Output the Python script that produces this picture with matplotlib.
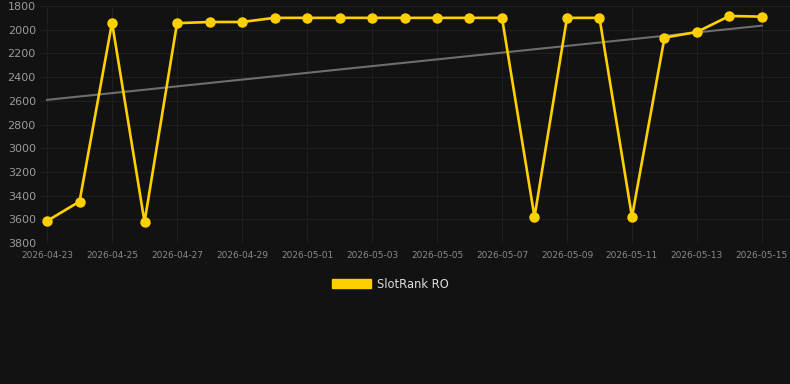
import matplotlib
matplotlib.use("Agg")
import matplotlib.pyplot as plt
import matplotlib.dates as mdates
from matplotlib.patches import Patch
import numpy as np
import pandas as pd

dates = pd.date_range("2026-04-23", "2026-05-15", freq="D")
ranks = [3614, 3450, 1940, 3623, 1945, 1935, 1935, 1900, 1900, 1900,
         1900, 1900, 1900, 1900, 1900, 3580, 1900, 1900, 3580, 2067,
         2019, 1884, 1890]
trend = [2592, 1966]  # start, end
tick_dates = dates[::2]
yticks = list(range(1800, 3801, 200))

bg = "#121212"
gold = "#FFD000"

fig = plt.figure(figsize=(7.9, 3.84), dpi=100, facecolor=bg)
ax = fig.add_axes([40 / 790, 1 - 243 / 384, 750 / 790, 237 / 384])
ax.set_facecolor(bg)

ax.plot([dates[0], dates[-1]], trend, color="#6e6e6e", lw=1.5, zorder=2)
ax.plot(dates, ranks, color=gold, lw=1.9, marker="o", ms=6.5,
        solid_joinstyle="miter", zorder=3, clip_on=False)

ax.set_ylim(3800, 1800)
ax.set_yticks(yticks)
ax.set_xlim(dates[0] - pd.Timedelta(hours=5.2), dates[-1] + pd.Timedelta(hours=20.7))
ax.set_xticks(tick_dates)
ax.xaxis.set_major_formatter(mdates.DateFormatter("%Y-%m-%d"))

ax.grid(True, color="#1f1f1f", lw=0.8)
for s in ax.spines.values():
    s.set_visible(False)
ax.tick_params(axis="y", length=0, pad=3, labelsize=8, labelcolor="#9a9a9a")
ax.tick_params(axis="x", length=0, pad=6, labelsize=6.5, labelcolor="#8a8a8a")

fig.legend(handles=[Patch(facecolor=gold, edgecolor=gold, label="SlotRank RO")],
           loc="center", bbox_to_anchor=(390 / 790, 1 - 284 / 384),
           frameon=False, handlelength=3.4, handleheight=0.7,
           fontsize=8.3, labelcolor="#dddddd", handletextpad=0.5)

fig.savefig("out.png", dpi=100, facecolor=bg)
